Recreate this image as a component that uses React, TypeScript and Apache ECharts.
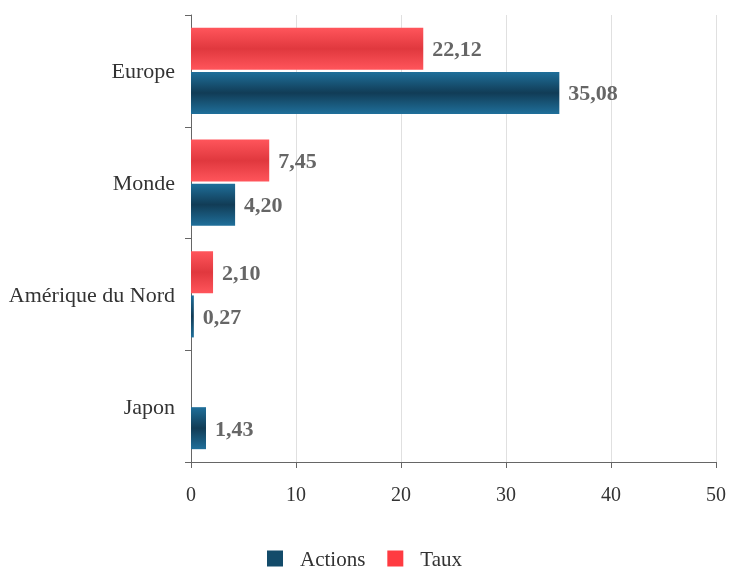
import React, { useEffect, useRef } from "react";
import * as echarts from "echarts";

const categories = ["Europe", "Monde", "Amérique du Nord", "Japon"];
const actions = [35.08, 4.2, 0.27, 1.43];
const taux: (number | null)[] = [22.12, 7.45, 2.1, null];
const xTicks = [0, 10, 20, 30, 40, 50];

const FONT = "Liberation Serif";

function grad(light: string, dark: string) {
  return new echarts.graphic.LinearGradient(0, 0, 0, 1, [
    { offset: 0, color: light },
    { offset: 0.5, color: dark },
    { offset: 1, color: light },
  ]);
}

export default function App() {
  const ref = useRef<HTMLDivElement>(null);
  useEffect(() => {
    if (!ref.current) return;
    const chart = echarts.init(ref.current, undefined, { renderer: "svg" });
    const label = {
      show: true,
      position: "right" as const,
      distance: 9,
      fontFamily: FONT,
      fontWeight: "bold" as const,
      fontSize: 22,
      color: "#666",
      formatter: (p: any) =>
        p.value == null ? "" : Number(p.value).toFixed(2).replace(".", ","),
    };
    chart.setOption({
      animation: false,
      textStyle: { fontFamily: FONT },
      grid: { left: 191, right: 9, top: 15, bottom: 108 },
      legend: {
        top: 543,
        left: "center",
        padding: 5,
        itemWidth: 16,
        itemHeight: 16,
        itemGap: 22,
        icon: "rect",
        textStyle: {
          fontFamily: FONT,
          fontSize: 21,
          color: "#333",
          padding: [0, 0, 0, 12],
        },
        data: [
          { name: "Actions", itemStyle: { color: "#134b6a" } },
          { name: "Taux", itemStyle: { color: "#ff3b41" } },
        ],
      },
      xAxis: {
        type: "value",
        min: 0,
        max: 50,
        interval: 10,
        axisLine: { show: true, lineStyle: { color: "#666" } },
        axisTick: { show: true, length: 6, lineStyle: { color: "#666" } },
        axisLabel: {
          fontFamily: FONT,
          fontSize: 20,
          color: "#333",
          margin: 22,
          formatter: (v: number) => (xTicks.includes(v) ? String(v) : ""),
        },
        splitLine: { show: true, lineStyle: { color: "#e0e0e0" } },
      },
      yAxis: {
        type: "category",
        data: categories,
        inverse: true,
        axisLine: { show: true, lineStyle: { color: "#666" } },
        axisTick: { show: true, length: 6, lineStyle: { color: "#666" } },
        axisLabel: { fontFamily: FONT, fontSize: 22, color: "#333", margin: 16 },
      },
      series: [
        {
          name: "Taux",
          type: "bar",
          data: taux,
          barWidth: 42,
          barGap: "5%",
          itemStyle: { color: grad("#ff555b", "#e0383e") },
          label,
        },
        {
          name: "Actions",
          type: "bar",
          data: actions,
          barWidth: 42,
          barGap: "5%",
          itemStyle: { color: grad("#1f6f9a", "#113c56") },
          label,
        },
      ],
    });
    return () => chart.dispose();
  }, []);
  return (
    <div
      ref={ref}
      style={{ position: "fixed", left: 0, top: 0, width: 729, height: 570 }}
    />
  );
}
